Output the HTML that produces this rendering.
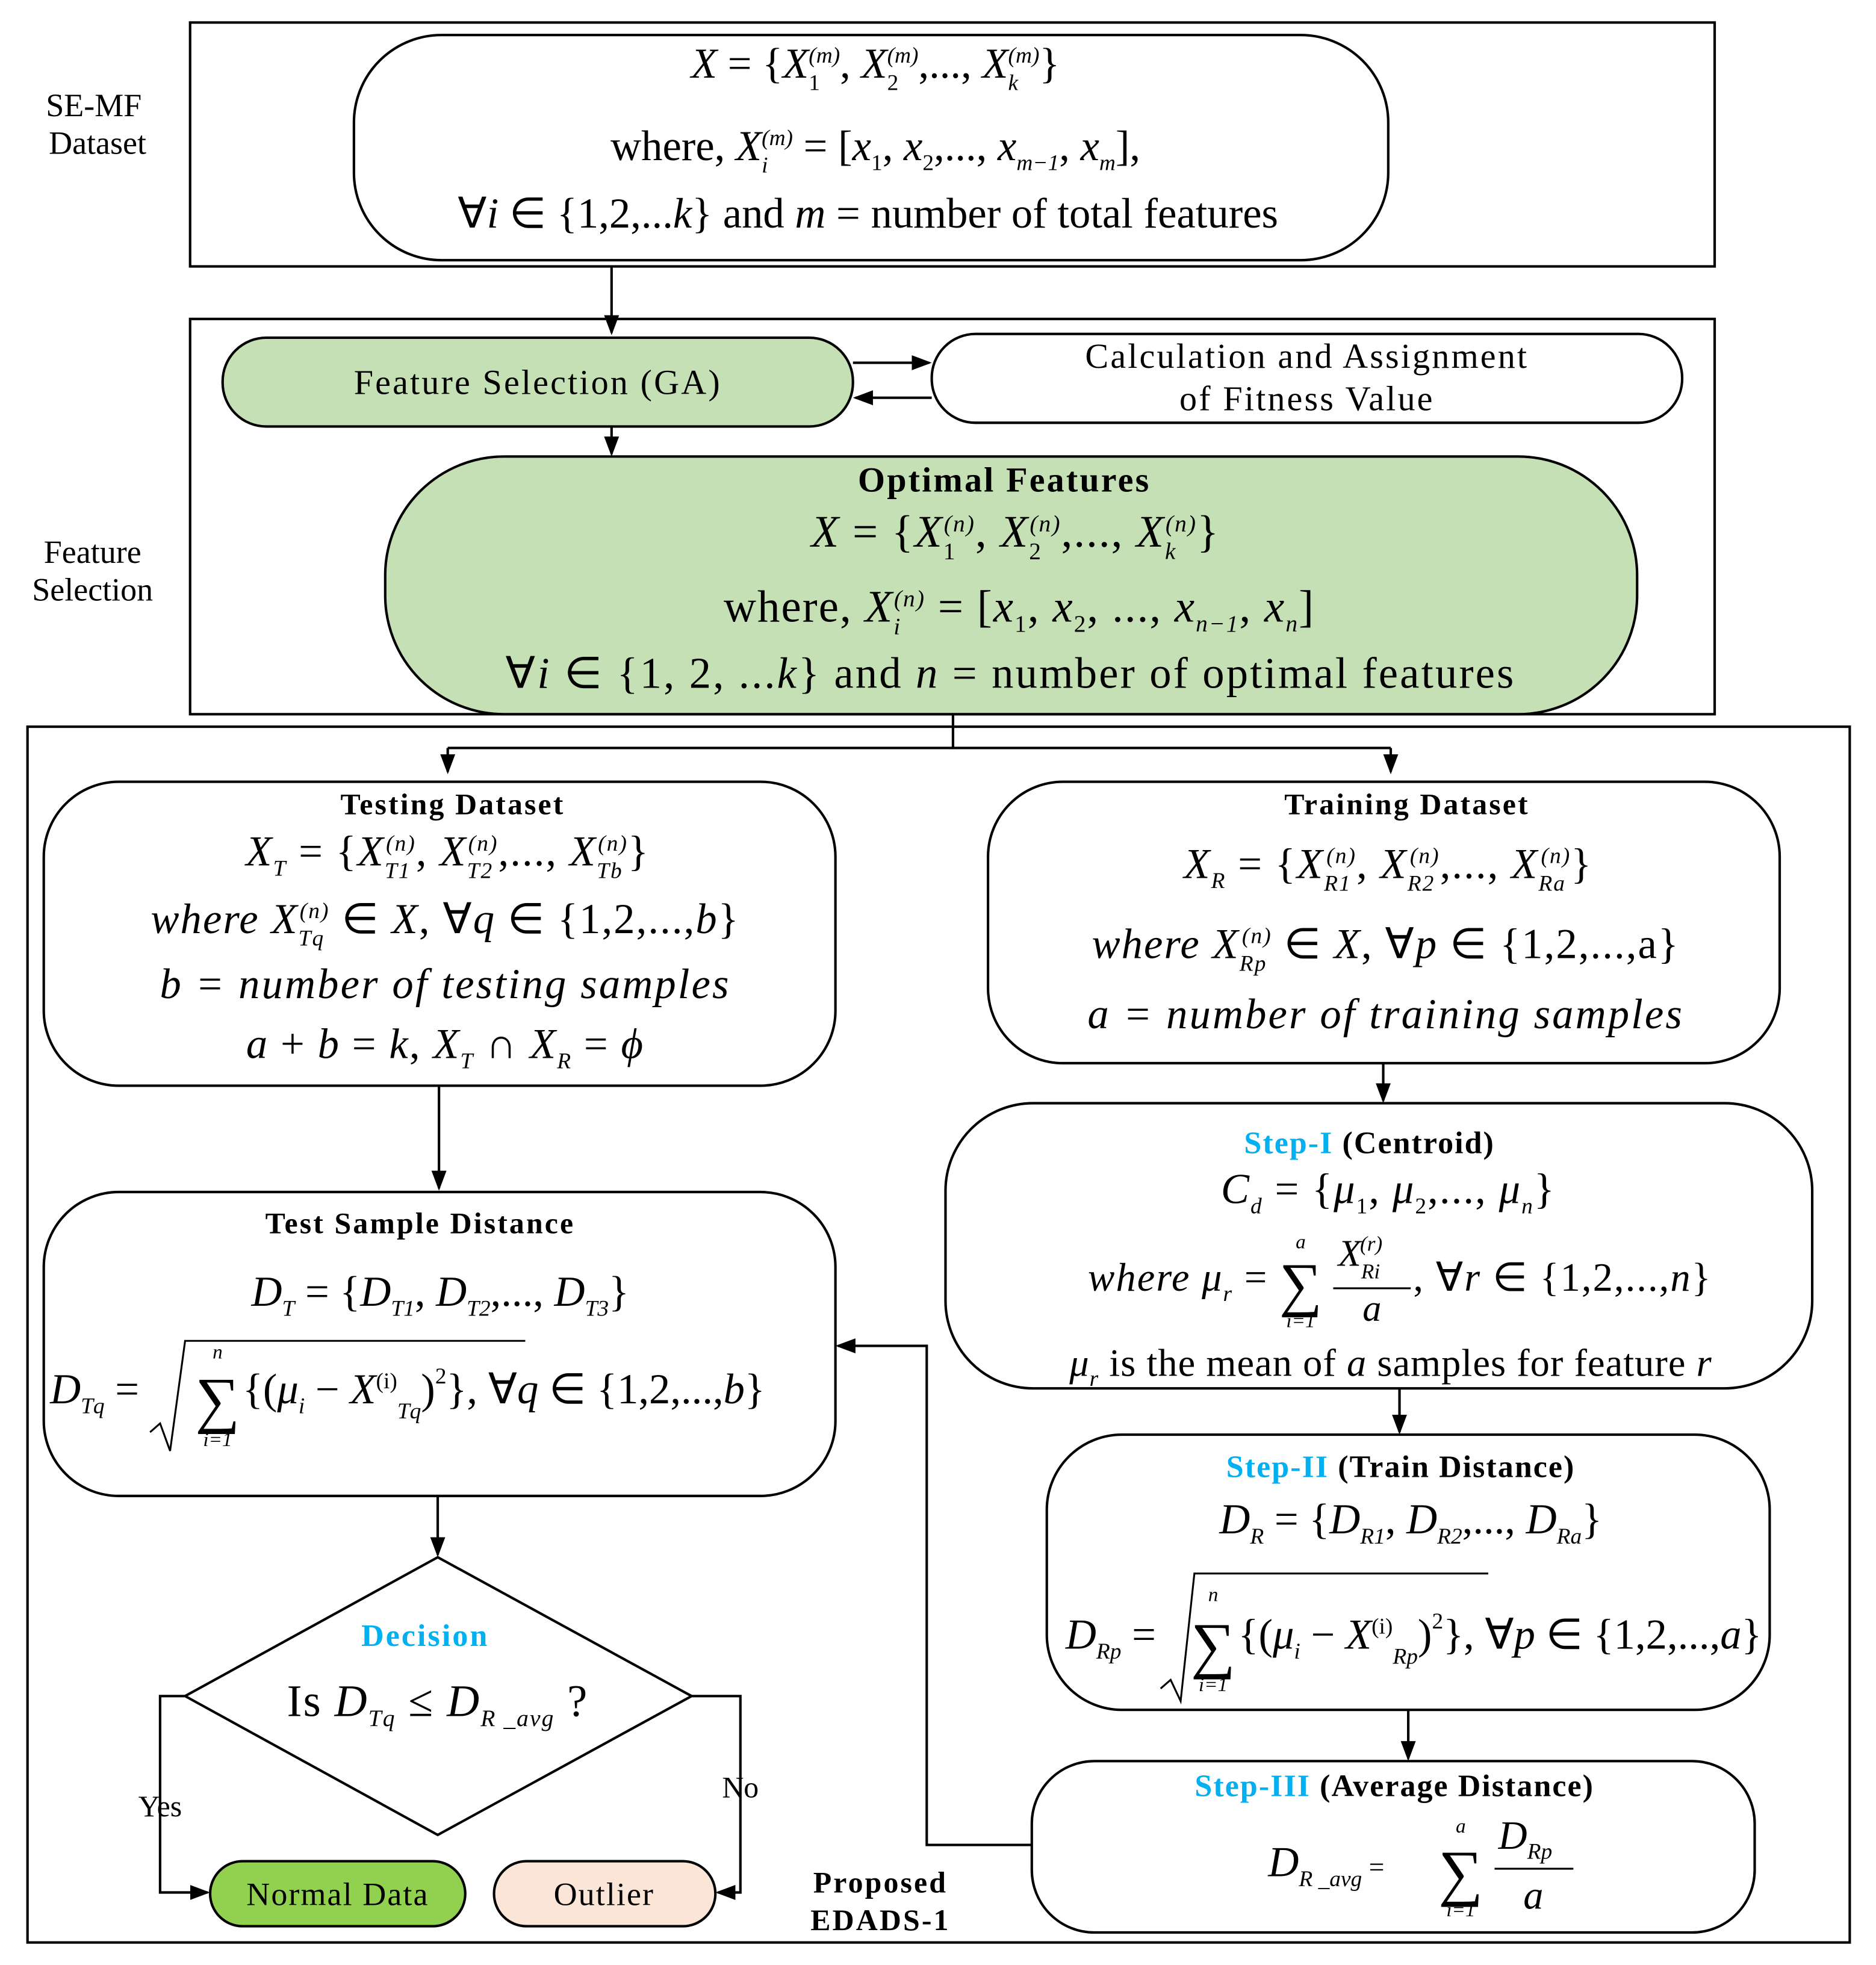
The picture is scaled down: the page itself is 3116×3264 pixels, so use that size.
<!DOCTYPE html>
<html><head><meta charset="utf-8"><style>
html,body{margin:0;padding:0;background:#fff}
svg{display:block}
text{font-family:"Liberation Serif",serif;fill:#000}
.i{font-style:italic}
.b{font-weight:bold}
.bl{fill:#00b0f0;font-weight:bold}
</style></head><body>
<svg width="3116" height="3264" viewBox="0 0 1500 1571" preserveAspectRatio="none" xmlns="http://www.w3.org/2000/svg">
<defs><marker id="s" markerWidth="16" markerHeight="16" refX="14" refY="8" orient="auto" markerUnits="userSpaceOnUse"><path d="M0,2 L16,8 L0,14 z" fill="#000"/></marker></defs>
<g fill="none" stroke="#000" stroke-width="2">
<rect x="152" y="18" width="1219" height="195"/>
<rect x="283" y="28" width="827" height="180" rx="70"/>
<rect x="152" y="255" width="1219" height="316"/>
<rect x="178" y="270" width="504" height="71" rx="35" fill="#c5e0b4"/>
<rect x="745" y="267" width="600" height="71" rx="35" fill="#fff"/>
<rect x="308" y="365" width="1001" height="206" rx="95" fill="#c5e0b4"/>
<rect x="22" y="581" width="1457" height="972"/>
<rect x="35" y="625" width="633" height="243" rx="60"/>
<rect x="790" y="625" width="633" height="225" rx="60"/>
<rect x="35" y="953" width="633" height="243" rx="60"/>
<rect x="756" y="882" width="693" height="228" rx="70"/>
<rect x="837" y="1147" width="578" height="220" rx="60"/>
<rect x="825" y="1408" width="578" height="137" rx="50"/>
<polygon points="350,1245 553,1356 350,1467 148,1356"/>
<rect x="168" y="1488" width="204" height="52" rx="26" fill="#92d050"/>
<rect x="395" y="1488" width="177" height="52" rx="26" fill="#fbe5d6"/>
<path d="M489,213 V266" marker-end="url(#s)"/>
<path d="M682,290 H743" marker-end="url(#s)"/>
<path d="M745,318 H684" marker-end="url(#s)"/>
<path d="M489,341 V363" marker-end="url(#s)"/>
<path d="M762,571 V599"/>
<path d="M358,598 H1112"/>
<path d="M358,598 V617" marker-end="url(#s)"/>
<path d="M1112,598 V617" marker-end="url(#s)"/>
<path d="M351,868 V950" marker-end="url(#s)"/>
<path d="M1106,850 V880" marker-end="url(#s)"/>
<path d="M1119,1110 V1145" marker-end="url(#s)"/>
<path d="M1126,1367 V1406" marker-end="url(#s)"/>
<path d="M825,1475 H741 V1076 H670" marker-end="url(#s)"/>
<path d="M350,1196 V1243" marker-end="url(#s)"/>
<path d="M148,1356 H128 V1513 H166" marker-end="url(#s)"/>
<path d="M553,1356 H592 V1513 H574" marker-end="url(#s)"/>
<path d="M1066,1030 H1128 M1195,1494 H1258" stroke-width="1.5"/>
<path d="M120,1145 L128,1138 L136,1160 L148,1072 H420" stroke-width="1.5"/>
<path d="M928,1350 L936,1343 L944,1360 L955,1258 H1190" stroke-width="1.5"/>
</g>
<g font-size="26">
<text x="75" y="93" text-anchor="middle">SE-MF</text>
<text x="78" y="123" text-anchor="middle">Dataset</text>
<text x="74" y="450" text-anchor="middle">Feature</text>
<text x="74" y="480" text-anchor="middle">Selection</text>
</g>
<!-- top box -->
<text x="700" y="62" font-size="34" text-anchor="middle"><tspan class="i">X</tspan> = {<tspan class="i">X</tspan><tspan font-size="18" dy="10">1</tspan><tspan font-size="18" dx="-9" dy="-22" class="i">(m)</tspan><tspan dy="12">, </tspan><tspan class="i">X</tspan><tspan font-size="18" dy="10">2</tspan><tspan font-size="18" dx="-9" dy="-22" class="i">(m)</tspan><tspan dy="12">,..., </tspan><tspan class="i">X</tspan><tspan font-size="18" dy="10" class="i">k</tspan><tspan font-size="18" dx="-8" dy="-22" class="i">(m)</tspan><tspan dy="12">}</tspan></text>
<text x="700" y="128" font-size="34" text-anchor="middle">where,  <tspan class="i">X</tspan><tspan font-size="18" dy="10" class="i">i</tspan><tspan font-size="18" dx="-5" dy="-22" class="i">(m)</tspan><tspan dy="12"> = [</tspan><tspan class="i">x</tspan><tspan font-size="18" dy="8">1</tspan><tspan dy="-8">,   </tspan><tspan class="i">x</tspan><tspan font-size="18" dy="8">2</tspan><tspan dy="-8">,...,   </tspan><tspan class="i">x</tspan><tspan font-size="18" dy="8" class="i">m−1</tspan><tspan dy="-8">,   </tspan><tspan class="i">x</tspan><tspan font-size="18" dy="8" class="i">m</tspan><tspan dy="-8">],</tspan></text>
<text x="694" y="182" font-size="34" text-anchor="middle">∀<tspan class="i">i</tspan> ∈ {1,2,...<tspan class="i">k</tspan>} and <tspan class="i">m</tspan> =  number of total features</text>
<text x="430" y="315" font-size="28" text-anchor="middle" letter-spacing="1.5">Feature Selection (GA)</text>
<text x="1045" y="294" font-size="28" text-anchor="middle" letter-spacing="1.5">Calculation and  Assignment</text>
<text x="1045" y="328" font-size="28" text-anchor="middle" letter-spacing="1.5">of Fitness Value</text>
<text x="803" y="393" font-size="28" class="b" text-anchor="middle" letter-spacing="1.5">Optimal Features</text>
<text x="812" y="437" font-size="36" text-anchor="middle" letter-spacing="1"><tspan class="i">X</tspan>  = {<tspan class="i">X</tspan><tspan font-size="19" dy="10">1</tspan><tspan font-size="19" dx="-10" dy="-22" class="i">(n)</tspan><tspan dy="12">, </tspan><tspan class="i">X</tspan><tspan font-size="19" dy="10">2</tspan><tspan font-size="19" dx="-10" dy="-22" class="i">(n)</tspan><tspan dy="12">,..., </tspan><tspan class="i">X</tspan><tspan font-size="19" dy="10" class="i">k</tspan><tspan font-size="19" dx="-9" dy="-22" class="i">(n)</tspan><tspan dy="12">}</tspan></text>
<text x="815" y="497" font-size="36" text-anchor="middle" letter-spacing="1">where,  <tspan class="i">X</tspan><tspan font-size="19" dy="10" class="i">i</tspan><tspan font-size="19" dx="-6" dy="-22" class="i">(n)</tspan><tspan dy="12"> = [</tspan><tspan class="i">x</tspan><tspan font-size="19" dy="8">1</tspan><tspan dy="-8">,    </tspan><tspan class="i">x</tspan><tspan font-size="19" dy="8">2</tspan><tspan dy="-8">,  ...,    </tspan><tspan class="i">x</tspan><tspan font-size="19" dy="8" class="i">n−1</tspan><tspan dy="-8">,    </tspan><tspan class="i">x</tspan><tspan font-size="19" dy="8" class="i">n</tspan><tspan dy="-8">]</tspan></text>
<text x="808" y="550" font-size="35" text-anchor="middle" letter-spacing="1.5">∀<tspan class="i">i</tspan>  ∈  {1, 2, ...<tspan class="i">k</tspan>}  and <tspan class="i">n</tspan> =  number of optimal features</text>
<!-- testing -->
<text x="362" y="651" font-size="24" class="b" text-anchor="middle" letter-spacing="1.5">Testing Dataset</text>
<text x="358" y="692" font-size="34" text-anchor="middle" letter-spacing="1"><tspan class="i">X</tspan><tspan font-size="18" dy="8" class="i">T</tspan><tspan dy="-8"> = {</tspan><tspan class="i">X</tspan><tspan font-size="18" dy="10" class="i">T1</tspan><tspan font-size="18" dx="-20" dy="-22" class="i">(n)</tspan><tspan dy="12">, </tspan><tspan class="i">X</tspan><tspan font-size="18" dy="10" class="i">T2</tspan><tspan font-size="18" dx="-20" dy="-22" class="i">(n)</tspan><tspan dy="12">,..., </tspan><tspan class="i">X</tspan><tspan font-size="18" dy="10" class="i">Tb</tspan><tspan font-size="18" dx="-20" dy="-22" class="i">(n)</tspan><tspan dy="12">}</tspan></text>
<text x="356" y="746" font-size="34" text-anchor="middle" letter-spacing="1"><tspan class="i">where  X</tspan><tspan font-size="18" dy="10" class="i">Tq</tspan><tspan font-size="18" dx="-20" dy="-22" class="i">(n)</tspan><tspan dy="12"> ∈ </tspan><tspan class="i">X</tspan>,   ∀<tspan class="i">q</tspan> ∈ {1,2,...,<tspan class="i">b</tspan>}</text>
<text x="356" y="798" font-size="34" class="i" text-anchor="middle" letter-spacing="1.5">b = number  of  testing  samples</text>
<text x="356" y="846" font-size="34" text-anchor="middle" letter-spacing="1"><tspan class="i">a</tspan> + <tspan class="i">b</tspan> = <tspan class="i">k</tspan>,  <tspan class="i">X</tspan><tspan font-size="18" dy="8" class="i">T</tspan><tspan dy="-8"> ∩ </tspan><tspan class="i">X</tspan><tspan font-size="18" dy="8" class="i">R</tspan><tspan dy="-8"> = </tspan><tspan class="i">ϕ</tspan></text>
<!-- training -->
<text x="1125" y="651" font-size="24" class="b" text-anchor="middle" letter-spacing="1.5">Training Dataset</text>
<text x="1110" y="702" font-size="34" text-anchor="middle" letter-spacing="1"><tspan class="i">X</tspan><tspan font-size="18" dy="8" class="i">R</tspan><tspan dy="-8"> = {</tspan><tspan class="i">X</tspan><tspan font-size="18" dy="10" class="i">R1</tspan><tspan font-size="18" dx="-20" dy="-22" class="i">(n)</tspan><tspan dy="12">, </tspan><tspan class="i">X</tspan><tspan font-size="18" dy="10" class="i">R2</tspan><tspan font-size="18" dx="-20" dy="-22" class="i">(n)</tspan><tspan dy="12">,..., </tspan><tspan class="i">X</tspan><tspan font-size="18" dy="10" class="i">Ra</tspan><tspan font-size="18" dx="-20" dy="-22" class="i">(n)</tspan><tspan dy="12">}</tspan></text>
<text x="1108" y="766" font-size="34" text-anchor="middle" letter-spacing="1"><tspan class="i">where X</tspan><tspan font-size="18" dy="10" class="i">Rp</tspan><tspan font-size="18" dx="-20" dy="-22" class="i">(n)</tspan><tspan dy="12"> ∈ </tspan><tspan class="i">X</tspan>,   ∀<tspan class="i">p</tspan> ∈ {1,2,...,a}</text>
<text x="1108" y="822" font-size="34" class="i" text-anchor="middle" letter-spacing="1.5">a = number  of  training  samples</text>
<!-- step I -->
<text x="1095" y="922" font-size="25" text-anchor="middle" letter-spacing="1"><tspan class="bl">Step-I</tspan><tspan class="b"> (Centroid)</tspan></text>
<text x="1110" y="962" font-size="34" text-anchor="middle" letter-spacing="1"><tspan class="i">C</tspan><tspan font-size="18" dy="8" class="i">d</tspan><tspan dy="-8"> = {</tspan><tspan class="i">μ</tspan><tspan font-size="18" dy="8">1</tspan><tspan dy="-8">, </tspan><tspan class="i">μ</tspan><tspan font-size="18" dy="8">2</tspan><tspan dy="-8">,..., </tspan><tspan class="i">μ</tspan><tspan font-size="18" dy="8" class="i">n</tspan><tspan dy="-8">}</tspan></text>
<text x="1014" y="1032" font-size="32" class="i" text-anchor="end" letter-spacing="1">where μ<tspan font-size="18" dy="8">r</tspan><tspan dy="-8" font-style="normal"> =</tspan></text>
<text x="1040" y="1043" font-size="48" text-anchor="middle">∑</text>
<text x="1040" y="998" font-size="16" class="i" text-anchor="middle">a</text>
<text x="1040" y="1061" font-size="16" class="i" text-anchor="middle">i=1</text>
<text x="1070" y="1012" font-size="30" class="i">X<tspan font-size="17" dy="10">Ri</tspan><tspan font-size="17" dx="-16" dy="-22">(r)</tspan></text>
<text x="1097" y="1056" font-size="30" class="i" text-anchor="middle">a</text>
<text x="1130" y="1032" font-size="32" letter-spacing="1">,  ∀<tspan class="i">r</tspan> ∈ {1,2,...,<tspan class="i">n</tspan>}</text>
<text x="1112" y="1100" font-size="31" text-anchor="middle" letter-spacing="0.5"><tspan class="i">μ</tspan><tspan font-size="18" dy="8" class="i">r</tspan><tspan dy="-8">  is the mean of </tspan><tspan class="i">a</tspan> samples for feature <tspan class="i">r</tspan></text>
<!-- step II -->
<text x="1120" y="1181" font-size="25" text-anchor="middle" letter-spacing="1"><tspan class="bl">Step-II</tspan><tspan class="b"> (Train Distance)</tspan></text>
<text x="1128" y="1226" font-size="34" text-anchor="middle"><tspan class="i">D</tspan><tspan font-size="18" dy="8" class="i">R</tspan><tspan dy="-8"> = {</tspan><tspan class="i">D</tspan><tspan font-size="18" dy="8" class="i">R1</tspan><tspan dy="-8">, </tspan><tspan class="i">D</tspan><tspan font-size="18" dy="8" class="i">R2</tspan><tspan dy="-8">,..., </tspan><tspan class="i">D</tspan><tspan font-size="18" dy="8" class="i">Ra</tspan><tspan dy="-8">}</tspan></text>
<text x="852" y="1318" font-size="34"><tspan class="i">D</tspan><tspan font-size="18" dy="8" class="i">Rp</tspan><tspan dy="-8"> =</tspan></text>
<text x="970" y="1332" font-size="50" text-anchor="middle">∑</text>
<text x="970" y="1280" font-size="16" class="i" text-anchor="middle">n</text>
<text x="970" y="1352" font-size="16" class="i" text-anchor="middle">i=1</text>
<text x="990" y="1318" font-size="34">{(<tspan class="i">μ</tspan><tspan font-size="18" dy="8" class="i">i</tspan><tspan dy="-8"> − </tspan><tspan class="i">X</tspan><tspan font-size="18" dy="-12">(i)</tspan><tspan font-size="18" dy="24" class="i">Rp</tspan><tspan dy="-12">)</tspan><tspan font-size="18" dy="-16">2</tspan><tspan dy="16">}, ∀</tspan><tspan class="i">p</tspan> ∈ {1,2,...,<tspan class="i">a</tspan>}</text>
<!-- step III -->
<text x="1115" y="1436" font-size="25" text-anchor="middle" letter-spacing="1"><tspan class="bl">Step-III</tspan><tspan class="b"> (Average Distance)</tspan></text>
<text x="1014" y="1500" font-size="34" class="i">D<tspan font-size="18" dy="8">R _avg</tspan><tspan dy="-8" font-style="normal" font-size="22"> =</tspan></text>
<text x="1168" y="1514" font-size="50" text-anchor="middle">∑</text>
<text x="1168" y="1465" font-size="16" class="i" text-anchor="middle">a</text>
<text x="1168" y="1532" font-size="16" class="i" text-anchor="middle">i=1</text>
<text x="1198" y="1478" font-size="32" class="i">D<tspan font-size="18" dy="8">Rp</tspan></text>
<text x="1226" y="1526" font-size="32" class="i" text-anchor="middle">a</text>
<!-- test distance -->
<text x="336" y="986" font-size="24" class="b" text-anchor="middle" letter-spacing="1.5">Test Sample Distance</text>
<text x="352" y="1044" font-size="34" text-anchor="middle"><tspan class="i">D</tspan><tspan font-size="18" dy="8" class="i">T</tspan><tspan dy="-8"> = {</tspan><tspan class="i">D</tspan><tspan font-size="18" dy="8" class="i">T1</tspan><tspan dy="-8">, </tspan><tspan class="i">D</tspan><tspan font-size="18" dy="8" class="i">T2</tspan><tspan dy="-8">,..., </tspan><tspan class="i">D</tspan><tspan font-size="18" dy="8" class="i">T3</tspan><tspan dy="-8">}</tspan></text>
<text x="40" y="1122" font-size="34"><tspan class="i">D</tspan><tspan font-size="18" dy="8" class="i">Tq</tspan><tspan dy="-8"> =</tspan></text>
<text x="174" y="1136" font-size="50" text-anchor="middle">∑</text>
<text x="174" y="1086" font-size="16" class="i" text-anchor="middle">n</text>
<text x="174" y="1156" font-size="16" class="i" text-anchor="middle">i=1</text>
<text x="194" y="1122" font-size="34">{(<tspan class="i">μ</tspan><tspan font-size="18" dy="8" class="i">i</tspan><tspan dy="-8"> − </tspan><tspan class="i">X</tspan><tspan font-size="18" dy="-12">(i)</tspan><tspan font-size="18" dy="24" class="i">Tq</tspan><tspan dy="-12">)</tspan><tspan font-size="18" dy="-16">2</tspan><tspan dy="16">}, ∀</tspan><tspan class="i">q</tspan> ∈ {1,2,...,<tspan class="i">b</tspan>}</text>
<!-- decision -->
<text x="340" y="1316" font-size="25" class="bl" text-anchor="middle" letter-spacing="1.5">Decision</text>
<text x="350" y="1372" font-size="36" text-anchor="middle" letter-spacing="1">Is   <tspan class="i">D</tspan><tspan font-size="19" dy="8" class="i">Tq</tspan><tspan dy="-8"> ≤ </tspan><tspan class="i">D</tspan><tspan font-size="19" dy="8" class="i">R _avg</tspan><tspan dy="-8"> ?</tspan></text>
<text x="128" y="1452" font-size="24" text-anchor="middle">Yes</text>
<text x="592" y="1437" font-size="24" text-anchor="middle">No</text>
<text x="270" y="1523" font-size="26" text-anchor="middle" letter-spacing="1">Normal Data</text>
<text x="483" y="1523" font-size="26" text-anchor="middle" letter-spacing="1">Outlier</text>
<text x="704" y="1513" font-size="24" class="b" text-anchor="middle" letter-spacing="1.5">Proposed</text>
<text x="704" y="1543" font-size="24" class="b" text-anchor="middle" letter-spacing="1.5">EDADS-1</text>
</svg>
</body></html>
